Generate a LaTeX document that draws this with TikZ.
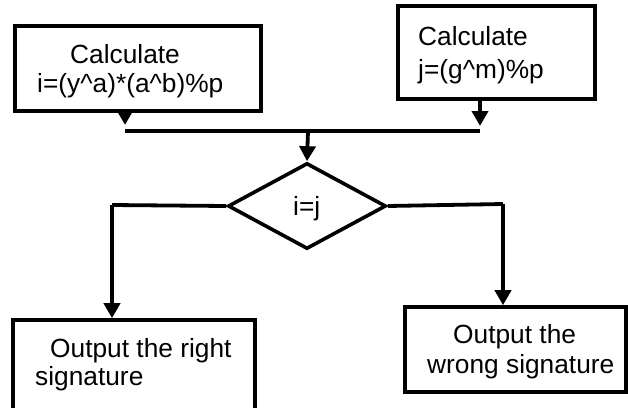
\documentclass[tikz,border=0pt]{standalone}
\usepackage{fontspec}
\setmainfont{Liberation Sans}
\usetikzlibrary{arrows.meta,shapes.geometric}
\begin{document}
\begin{tikzpicture}[x=1pt,y=-1pt,
  box/.style={draw, line width=3.6pt, inner sep=0pt, rectangle},
  conn/.style={line width=3.8pt},
  arr/.style={conn,-{Triangle[width=16pt,length=15pt]}},
  txt/.style={anchor=base west, inner sep=0pt, font=\fontsize{26.3}{31}\selectfont}]
\useasboundingbox (0,0) rectangle (628,407);
\clip (0,0) rectangle (628,407);
% boxes
\node[box, minimum width=246pt, minimum height=85pt] (A) at (138,68.5) {};
\node[box, minimum width=197pt, minimum height=93pt] (B) at (496.5,52.5) {};
\node[box, minimum width=242pt, minimum height=95pt] (C) at (134,367.5) {};
\node[box, minimum width=221pt, minimum height=85pt] (D) at (515.5,349.5) {};
\node[draw, line width=3.6pt, diamond, inner sep=0pt, minimum width=158pt, minimum height=86pt] (Q) at (307,206) {};
% texts
\node[txt] (ta1) at (70,63) {Calculate};
\node[txt] (ta2) at (37,92) {i=(y\^{}a)*(a\^{}b)\%p};
\node[txt] (tb1) at (418,45) {Calculate};
\node[txt] (tb2) at (418,78) {j=(g\^{}m)\%p};
\node[txt] (tq) at (293,215) {i=j};
\node[txt] (tc1) at (50,357) {Output the right};
\node[txt] (tc2) at (35,385) {signature};
\node[txt] (td1) at (453,343) {Output the};
\node[txt] (td2) at (427,373) {wrong signature};
% junction coordinates
\coordinate (jl) at (125,131);
\coordinate (jr) at (480,131);
\coordinate (jm) at (308,131);
\coordinate (ql) at (112,205);
\coordinate (qr) at (503,204);
% connectors
\draw[arr] (A.south -| jl) -- ([yshift=6pt]jl);
\draw[arr] (B.south -| jr) -- ([yshift=5pt]jr);
\draw[conn] (jl) -- (jr);
\draw[arr] (jm) -- (Q.north);
\draw[conn] (Q.west) -- (ql);
\draw[arr] (ql) -- (C.north -| ql);
\draw[conn] (Q.east) -- (qr);
\draw[arr] (qr) -- (D.north -| qr);
\end{tikzpicture}
\end{document}
